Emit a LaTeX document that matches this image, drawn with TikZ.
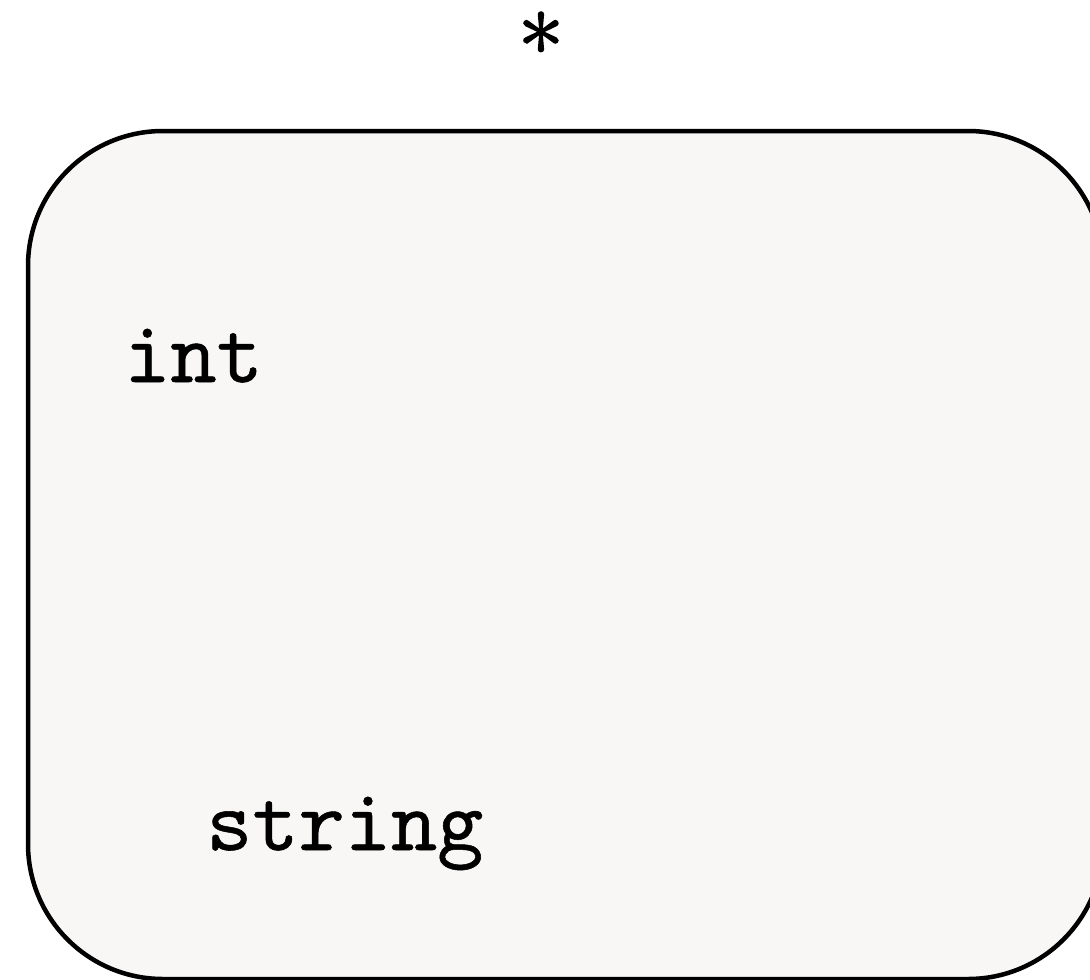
\documentclass[tikz,border=0pt]{standalone}
\usepackage{fontspec}
\usepackage{tikz}
\newfontfamily\thicktt{lmmono10-regular.otf}[BoldFont=lmmono10-regular.otf, BoldFeatures={FakeBold=0.6}]
\newfontfamily\thickrm{lmroman10-regular.otf}[BoldFont=lmroman10-regular.otf, BoldFeatures={FakeBold=1.6}]
\definecolor{boxfill}{RGB}{248,247,246}
\tikzset{
  box/.style={draw=black, line width=4.5pt, fill=boxfill, rounded corners=135pt,
    rectangle, minimum width=1075pt, minimum height=848pt, inner sep=0pt},
  label/.style={font=\fontsize{88}{100}\selectfont\thicktt\bfseries, inner sep=0pt, text=black},
  starlabel/.style={font=\fontsize{92}{100}\selectfont\thickrm\bfseries, inner sep=0pt, text=black}
}
\begin{document}
\begin{tikzpicture}[x=1pt,y=-1pt]
\useasboundingbox (0,0) rectangle (1090,980);
\clip (0,0) rectangle (1090,980);
\node[box] (frame) at (565.5,555) {};
\node[starlabel, anchor=base] (star) at (541,81) {*};
\node[label, anchor=base west] (int) at (124,382) {int};
\node[label, anchor=base west] (string) at (206,850) {string};
\end{tikzpicture}
\end{document}
